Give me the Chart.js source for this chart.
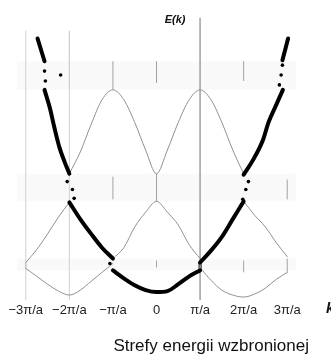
<!DOCTYPE html>
<html>
<head>
<meta charset="utf-8">
<script src="https://cdn.jsdelivr.net/npm/chart.js@4/dist/chart.umd.min.js"></script>
<style>
  html, body { margin: 0; padding: 0; background: #fff; }
  #wrap { width: 331px; height: 357px; }
</style>
</head>
<body>
<div id="wrap"><canvas id="chart"></canvas></div>
<script>
// k in units of pi/a, E in arbitrary units (0 = bottom of the plot)
const kTicks = [-3, -2, -1, 0, 1, 2, 3];
const kTickLabels = ['−3π/a', '−2π/a', '−π/a', '0', 'π/a', '2π/a', '3π/a'];

// forbidden gaps [bottom, top]
const gaps = [[30, 42], [100, 128], [213, 242]];

// thick curve (extended zone scheme)
const band1K = [-1, -0.75, -0.5, -0.25, 0, 0.25, 0.5, 0.75, 1];
const band1E = [30, 22, 15, 10, 8, 9, 16, 24, 30];
const band2LK = [-2, -1.75, -1.5, -1.25, -1];
const band2LE = [99, 82, 67, 53, 42];
const band2RK = [1, 1.25, 1.5, 1.75, 2];
const band2RE = [38, 50, 64, 82, 100];
const band3LK = [-2.57, -2.45, -2.34, -2.23, -2.11, -2];
const band3LE = [213, 195, 174, 155, 140, 128];
const band3RK = [2, 2.23, 2.45, 2.57, 2.75, 2.9];
const band3RE = [127, 143, 163, 180, 198, 213];
const band4LK = [-2.73, -2.57];
const band4LE = [265, 242];
const band4RK = [2.89, 3.02];
const band4RE = [243, 265];

// thin curves (folded copies)
const thin1LK = [-3, -2.75, -2.5, -2.25, -2, -1.75, -1.5, -1.25, -1];
const thin1LE = [32, 24, 16, 9, 5, 10, 19, 28, 37];
const thin1RK = [1, 1.25, 1.5, 1.75, 2, 2.25, 2.5, 2.75, 3];
const thin1RE = [33, 20, 10, 5, 3, 6, 12, 21, 28];
const thin2CK = [-1, -0.75, -0.5, -0.25, 0, 0.25, 0.5, 0.75, 1];
const thin2CE = [42, 53, 74, 89, 100, 89, 76, 56, 42];
const thin2LK = [-3, -2.75, -2.5, -2.25, -2];
const thin2LE = [38, 51, 67, 84, 99];
const thin2RK = [2, 2.25, 2.5, 2.75, 3];
const thin2RE = [100, 86, 74, 58, 44];
const thin3K = [-2, -1.75, -1.5, -1.25, -1, -0.75, -0.5, -0.25, 0, 0.25, 0.5, 0.75, 1, 1.25, 1.5, 1.75, 2];
const thin3E = [128, 150, 178, 203, 213, 203, 180, 152, 128, 152, 180, 203, 213, 203, 180, 152, 128];

// dotted jumps of the thick curve across the gaps
const dotK = [-1.07, -2.05, -1.93, -1.89, 2.11, 2.05, 1.98, -2.57, -2.55, -2.2, 2.89, 2.86, 2.82];
const dotE = [37, 120, 112, 103, 120, 112, 102, 232, 222, 228, 238, 228, 218];

// short vertical marks [k, from, to]
const marks = [
  [-3, 32, 38], [0, 33, 40], [2, 28, 40], [3, 28, 42],
  [-1, 102, 125], [0, 100, 128], [3, 102, 122],
  [-1, 213, 242], [0, 220, 242], [2, 222, 242]
];
// long guide lines [k, from, to]
const guides = [[-3, 0, 273], [-2, 0, 273], [-2, 213, 273]];
const axisK = 1;
const axisTop = 286;

function pts(ks, es) { return ks.map((k, i) => ({ x: k, y: es[i] })); }

function curve(ks, es, thick) {
  return {
    data: pts(ks, es),
    borderColor: thick ? '#000' : '#909090',
    borderWidth: thick ? 4 : 1,
    borderCapStyle: 'round',
    pointRadius: 0,
    cubicInterpolationMode: 'monotone',
    fill: false,
    order: thick ? 2 : 5
  };
}

function vline(k, e0, e1, color, width) {
  return {
    data: [{ x: k, y: e0 }, { x: k, y: e1 }],
    borderColor: color, borderWidth: width,
    pointRadius: 0, fill: false, order: 8
  };
}

const datasets = [];

gaps.forEach(g => {
  datasets.push({
    data: [{ x: -3.2, y: g[1] }, { x: 3.2, y: g[1] }],
    borderWidth: 0, pointRadius: 0,
    backgroundColor: 'rgba(0,0,0,0.025)',
    fill: { value: g[0] }, order: 10
  });
});

guides.forEach(v => datasets.push(vline(v[0], v[1], v[2], '#cfcfcf', 1)));
marks.forEach(v => datasets.push(vline(v[0], v[1], v[2], '#a0a0a0', 1)));
datasets.push(vline(axisK, 0, axisTop, '#a0a0a0', 1.5));

datasets.push(curve(thin1LK, thin1LE, false));
datasets.push(curve(thin1RK, thin1RE, false));
datasets.push(curve(thin2CK, thin2CE, false));
datasets.push(curve(thin2LK, thin2LE, false));
datasets.push(curve(thin2RK, thin2RE, false));
datasets.push(curve(thin3K, thin3E, false));

datasets.push(curve(band1K, band1E, true));
datasets.push(curve(band2LK, band2LE, true));
datasets.push(curve(band2RK, band2RE, true));
datasets.push(curve(band3LK, band3LE, true));
datasets.push(curve(band3RK, band3RE, true));
datasets.push(curve(band4LK, band4LE, true));
datasets.push(curve(band4RK, band4RE, true));
datasets.push(vline(1, 30, 38, '#000', 3));

datasets.push({
  data: pts(dotK, dotE),
  showLine: false,
  pointRadius: 1.8,
  pointBackgroundColor: '#000',
  pointBorderWidth: 0,
  order: 1
});

const labelsPlugin = {
  id: 'labels',
  afterDraw(chart) {
    const ctx = chart.ctx;
    const xs = chart.scales.x, ys = chart.scales.y;
    ctx.save();
    ctx.fillStyle = '#111';
    ctx.font = 'italic bold 11px "Liberation Sans", Arial, sans-serif';
    ctx.textAlign = 'center';
    ctx.textBaseline = 'middle';
    ctx.fillText('E(k)', xs.getPixelForValue(axisK) - 25, ys.getPixelForValue(axisTop) + 2);
    ctx.font = 'italic bold 15px "Liberation Sans", Arial, sans-serif';
    ctx.textAlign = 'left';
    ctx.fillText('k', 326, ys.getPixelForValue(0) + 9);
    ctx.restore();
  }
};

new Chart(document.getElementById('chart'), {
  type: 'line',
  data: { datasets: datasets },
  options: {
    responsive: true,
    maintainAspectRatio: false,
    animation: false,
    devicePixelRatio: 1,
    layout: { padding: { left: 1, right: 22, top: 0, bottom: 0 } },
    plugins: { legend: { display: false }, tooltip: { enabled: false } },
    scales: {
      x: {
        type: 'linear',
        min: -3.5, max: 3.5,
        afterBuildTicks: s => { s.ticks = kTicks.map(v => ({ value: v })); },
        afterFit: s => { s.height = 57; },
        grid: { display: false, drawTicks: false },
        border: { display: false },
        ticks: {
          autoSkip: false, maxRotation: 0, padding: 3,
          color: '#222',
          font: { family: '"Liberation Sans", Arial, sans-serif', size: 13 },
          callback: v => kTickLabels[kTicks.indexOf(v)]
        },
        title: {
          display: true,
          text: 'Strefy energii wzbronionej',
          align: 'end',
          color: '#111',
          padding: { top: 0, bottom: 0 },
          font: { family: '"Liberation Sans", Arial, sans-serif', size: 17 }
        }
      },
      y: { display: false, min: 0, max: 300 }
    }
  },
  plugins: [labelsPlugin]
});
</script>
</body>
</html>
